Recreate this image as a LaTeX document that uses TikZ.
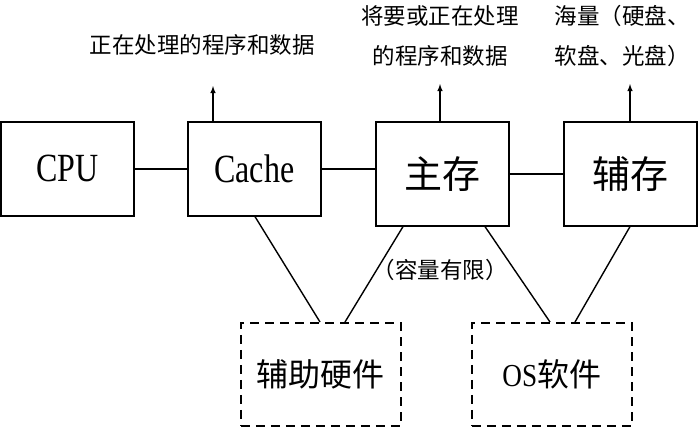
\documentclass[tikz,border=0pt]{standalone}
\usepackage{fontspec}
\setmainfont{Liberation Serif}
\newfontfamily\cjk{Noto Sans CJK SC}
\usetikzlibrary{calc}
\begin{document}
\begin{tikzpicture}[x=1pt,y=-1pt,
 box/.style={draw,line width=1.6pt,minimum width=#1,anchor=north west,inner sep=0pt},
 sbox/.style={box=133pt,minimum height=94pt,font=\fontsize{40}{42}\selectfont},
 dbox/.style={box=160pt,minimum height=103pt,dash pattern=on 9pt off 6pt,font=\fontsize{32}{34}\selectfont},
 lbl/.style={font=\cjk\fontsize{22.5}{40}\selectfont,align=center},
 ln/.style={line width=1.4pt},
 arr/.style={ln,-latex}]
\useasboundingbox (0,0) rectangle (698,432);
\node[sbox,minimum width=133pt] (cpu) at (0,121) {\scalebox{0.8}[1]{CPU}};
\node[sbox] (cache) at (187,121) {\scalebox{0.8}[1]{Cache}};
\node[sbox,minimum height=104pt,font=\cjk\fontsize{38}{40}\selectfont] (main) at (375,121) {主存};
\node[sbox,minimum height=104pt,font=\cjk\fontsize{38}{40}\selectfont] (aux) at (563,121) {辅存};
\node[dbox] (hw) at (240,322) {\cjk 辅助硬件};
\node[dbox] (os) at (471,322) {\scalebox{0.85}[1]{OS}\cjk 软件};
\draw[ln] (cpu.east) -- (cpu.east -| cache.west);
\draw[ln] (cache.east) -- (cache.east -| main.west);
\draw[ln] ($(main.north east)+(0,53)$) -- ($(aux.north west)+(0,53)$);
\node[lbl] (l1) at (202,45) {正在处理的程序和数据};
\node[lbl] (l2) at (440,36) {将要或正在处理\\的程序和数据};
\node[lbl] (l3) at (622,36) {海量（硬盘、\\软盘、光盘）};
\node[lbl] (l4) at (440,270) {（容量有限）};
\coordinate (a1) at (213,86);
\coordinate (a2) at (440,84);
\coordinate (a3) at (630,84);
\draw[arr] (cache.north -| a1) -- (a1);
\draw[arr] (main.north -| a2) -- (a2);
\draw[arr] (aux.north -| a3) -- (a3);
\draw[ln] ($(cache.south west)+(68,0)$) -- ($(hw.north west)+(80,0)$);
\draw[ln] ($(main.south west)+(28,0)$) -- ($(hw.north west)+(105,0)$);
\draw[ln] ($(main.south west)+(110,0)$) -- ($(os.north west)+(79,0)$);
\draw[ln] ($(aux.south west)+(67,0)$) -- ($(os.north west)+(104,0)$);
\end{tikzpicture}
\end{document}
